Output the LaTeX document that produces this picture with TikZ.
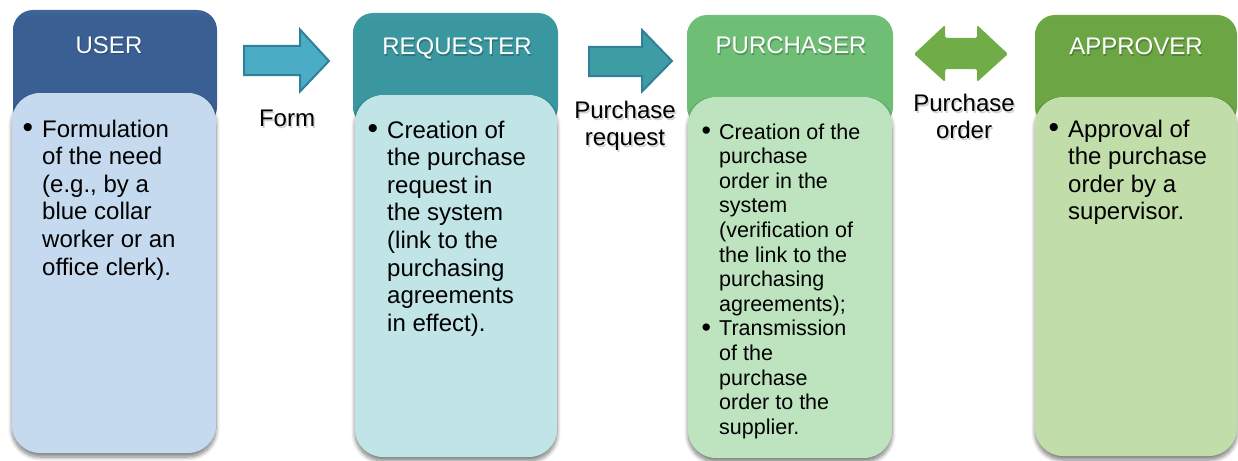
\documentclass[tikz,border=0pt]{standalone}
\usepackage{fontspec}
\setmainfont{Liberation Sans}
\usetikzlibrary{shadows.blur}

% lane colours
\definecolor{userTop}{HTML}{6A95CB}
\definecolor{userDark}{HTML}{3A5F93}
\definecolor{userLight}{HTML}{C6DAEF}
\definecolor{reqTop}{HTML}{63C0C8}
\definecolor{reqDark}{HTML}{3A979F}
\definecolor{reqLight}{HTML}{C1E4E7}
\definecolor{purTop}{HTML}{94D59A}
\definecolor{purDark}{HTML}{6EBE76}
\definecolor{purLight}{HTML}{BDE4BF}
\definecolor{appTop}{HTML}{86BE5C}
\definecolor{appDark}{HTML}{6CA543}
\definecolor{appLight}{HTML}{C1DDA9}
% block arrow colours
\definecolor{arrOneFill}{HTML}{4BACC6}
\definecolor{arrTwoFill}{HTML}{3E9CA4}
\definecolor{arrEdge}{HTML}{31809A}
\definecolor{arrGreen}{HTML}{70AD47}

% header shadings: dark body, lighter band along the top edge
\pgfdeclareverticalshading{userShade}{100bp}{color(0bp)=(userDark); color(72bp)=(userDark); color(100bp)=(userTop)}
\pgfdeclareverticalshading{reqShade}{100bp}{color(0bp)=(reqDark); color(72bp)=(reqDark); color(100bp)=(reqTop)}
\pgfdeclareverticalshading{purShade}{100bp}{color(0bp)=(purDark); color(72bp)=(purDark); color(100bp)=(purTop)}
\pgfdeclareverticalshading{appShade}{100bp}{color(0bp)=(appDark); color(72bp)=(appDark); color(100bp)=(appTop)}

% hanging bullet for the panel texts
\newcommand\bul{\leavevmode\llap{\raisebox{-0.03em}{\scalebox{1.25}{\textbullet}}\hspace{0.38em}}}

\begin{document}
\begin{tikzpicture}[x=1pt,y=-1pt,
  header/.style={rectangle, rounded corners=20pt, draw=none, inner sep=0pt},
  panel/.style={rectangle, rounded corners=28pt, draw=none, inner sep=0pt,
    blur shadow={shadow xshift=0pt, shadow yshift=-4pt, shadow blur steps=8,
      shadow blur radius=4pt, shadow opacity=50}},
  htext/.style={anchor=base, text=white, inner sep=0pt,
    font=\fontsize{24}{28}\selectfont},
  hshadow/.style={anchor=base, text=black, opacity=0.22, inner sep=0pt,
    font=\fontsize{24}{28}\selectfont},
  body/.style={anchor=base west, inner sep=0pt, text=black},
  flowlabel/.style={anchor=base, inner sep=0pt, text=black},
  lshadow/.style={anchor=base, inner sep=0pt, text=black, opacity=0.18},
]
\useasboundingbox (0,0) rectangle (1238,460);

% ---------- lane headers ----------
\node[header, shading=userShade, minimum width=204pt, minimum height=117pt]
  (userHead) at (115,68.5) {};
\node[header, shading=reqShade, minimum width=205pt, minimum height=114pt]
  (reqHead) at (455.5,70) {};
\node[header, shading=purShade, minimum width=206pt, minimum height=112pt]
  (purHead) at (790,71) {};
\node[header, shading=appShade, minimum width=202pt, minimum height=112pt]
  (appHead) at (1136,71) {};

% ---------- lane panels ----------
\node[panel, fill=userLight, minimum width=204pt, minimum height=360pt]
  (userPanel) at (114,273) {};
\node[panel, fill=reqLight, minimum width=202pt, minimum height=362pt]
  (reqPanel) at (456,276) {};
\node[panel, fill=purLight, minimum width=204pt, minimum height=361pt]
  (purPanel) at (790,277.5) {};
\node[panel, fill=appLight, minimum width=202pt, minimum height=359pt]
  (appPanel) at (1136,276.5) {};

% ---------- header titles ----------
\node[hshadow] (userTitleS) at (110,54.5) {USER};
\node[htext]   (userTitle)  at (109,53)   {USER};
\node[hshadow] (reqTitleS)  at (458,56.5) {REQUESTER};
\node[htext]   (reqTitle)   at (457,55)   {REQUESTER};
\node[hshadow] (purTitleS)  at (792,55.5) {PURCHASER};
\node[htext]   (purTitle)   at (791,54)   {PURCHASER};
\node[hshadow] (appTitleS)  at (1137,56.5) {APPROVER};
\node[htext]   (appTitle)   at (1136,55)  {APPROVER};

% ---------- panel texts ----------
\node[body] (userText) at (42,137) {\parbox[t]{200pt}{\raggedright\fontsize{24}{27.6}\selectfont
  \bul Formulation\\ of the need\\ (e.g., by a\\ blue collar\\ worker or an\\ office clerk).}};
\node[body] (reqText) at (387,138) {\parbox[t]{200pt}{\raggedright\fontsize{24}{27.6}\selectfont
  \bul Creation of\\ the purchase\\ request in\\ the system\\ (link to the\\ purchasing\\ agreements\\ in effect).}};
\node[body] (purText) at (719,139) {\parbox[t]{200pt}{\raggedright\fontsize{21.5}{24.6}\selectfont
  \bul Creation of the\\ purchase\\ order in the\\ system\\ (verification of\\ the link to the\\ purchasing\\ agreements);\\
  \bul Transmission\\ of the\\ purchase\\ order to the\\ supplier.}};
\node[body] (appText) at (1068,137) {\parbox[t]{200pt}{\raggedright\fontsize{24}{27.6}\selectfont
  \bul Approval of\\ the purchase\\ order by a\\ supervisor.}};

% ---------- block arrows between lanes ----------
\draw[fill=arrOneFill, draw=arrEdge, line width=2pt, line join=miter]
  (244,46) -- (300,46) -- (300,29.5) -- (329,61) -- (300,91.5) -- (300,75)
  -- (244,75) -- cycle;
\draw[fill=arrTwoFill, draw=arrEdge, line width=2pt, line join=miter]
  (589,47) -- (642,47) -- (642,30) -- (672,61) -- (642,91.5) -- (642,76)
  -- (589,76) -- cycle;
\fill[arrGreen, rounded corners=1.5pt]
  (914,54) -- (945,25) -- (945,38) -- (977,38) -- (977,25) -- (1008,54)
  -- (977,82) -- (977,69) -- (945,69) -- (945,82) -- cycle;

% ---------- arrow labels ----------
\node[lshadow] (formS) at (288.5,128) {\fontsize{24}{27}\selectfont Form};
\node[flowlabel] (form) at (287,126) {\fontsize{24}{27}\selectfont Form};
\node[lshadow] (prS) at (626.5,120) {\parbox[t]{140pt}{\centering\fontsize{24}{27}\selectfont Purchase\\ request}};
\node[flowlabel] (pr) at (625,118) {\parbox[t]{140pt}{\centering\fontsize{24}{27}\selectfont Purchase\\ request}};
\node[lshadow] (poS) at (965.5,113) {\parbox[t]{140pt}{\centering\fontsize{24}{27}\selectfont Purchase\\ order}};
\node[flowlabel] (po) at (964,111) {\parbox[t]{140pt}{\centering\fontsize{24}{27}\selectfont Purchase\\ order}};
\end{tikzpicture}
\end{document}
